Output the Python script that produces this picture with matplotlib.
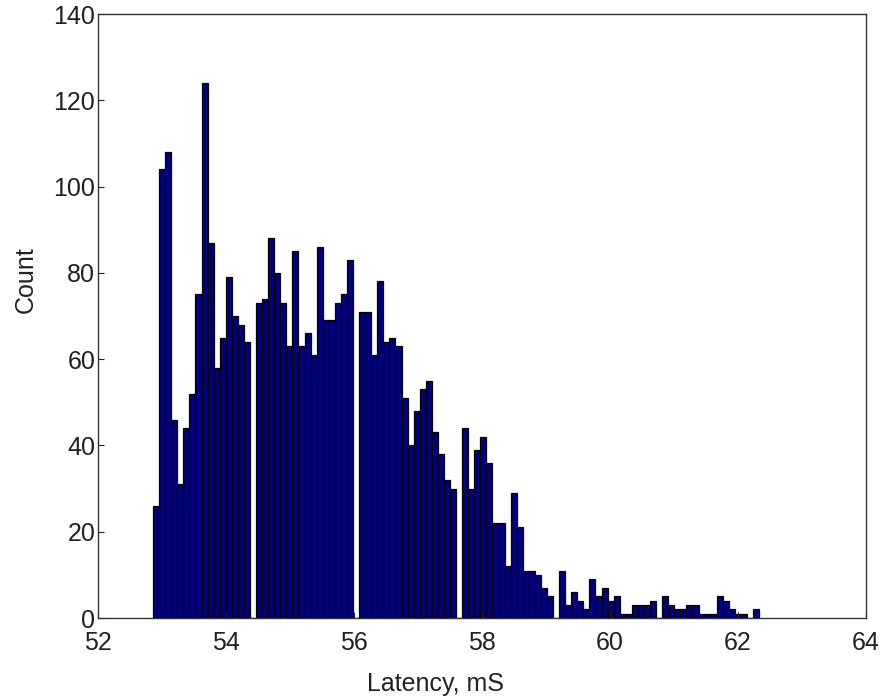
import numpy as np
import matplotlib
matplotlib.use("Agg")
import matplotlib.pyplot as plt

# Histogram data (100 equal bins)
bin_start = 52.86
bin_width = 0.0947
counts = [
    26, 104, 108, 46, 31, 44, 52, 75, 124, 87,
    58, 65, 79, 70, 68, 64, 0, 73, 74, 88,
    80, 73, 63, 85, 63, 66, 61, 86, 69, 69,
    73, 75, 83, 0, 71, 71, 61, 78, 64, 65,
    63, 51, 40, 48, 53, 55, 43, 38, 32, 30,
    0, 44, 30, 39, 42, 36, 22, 22, 12, 29,
    21, 11, 11, 10, 7, 5, 0, 11, 3, 6,
    4, 2, 9, 5, 7, 4, 5, 1, 1, 3,
    3, 3, 4, 0, 5, 3, 2, 2, 3, 3,
    1, 1, 1, 5, 4, 2, 1, 1, 0, 2,
]
x_ticks = [52, 54, 56, 58, 60, 62, 64]
y_ticks = [0, 20, 40, 60, 80, 100, 120, 140]

plt.rcParams['font.family'] = ['Liberation Sans', 'DejaVu Sans']

fig = plt.figure(figsize=(8.88, 6.98), dpi=100)
ax = fig.add_axes([98/888, 1 - 618/698, (866-98)/888, (618-14)/698])

edges = bin_start + bin_width * np.arange(len(counts) + 1)
ax.bar(edges[:-1], counts, width=bin_width, align='edge',
       color='#000080', edgecolor='black', linewidth=0.9)

ax.set_xlim(52, 64)
ax.set_ylim(0, 140)
ax.set_xticks(x_ticks)
ax.set_yticks(y_ticks)
ax.tick_params(direction='in', length=4, width=0.8, labelsize=18,
               colors='#222222', pad=3)
ax.tick_params(axis='y', pad=2)
ax.tick_params(axis='x', pad=9)
for s in ax.spines.values():
    s.set_color('#333333')
    s.set_linewidth(1.0)

ax.set_xlabel('Latency, mS', fontsize=18, color='#222222')
ax.set_ylabel('Count', fontsize=18, color='#222222')
ax.xaxis.set_label_coords(0.439, -0.09)
ax.yaxis.set_label_coords(-0.079, 0.56)

fig.savefig('out.png', dpi=100)
